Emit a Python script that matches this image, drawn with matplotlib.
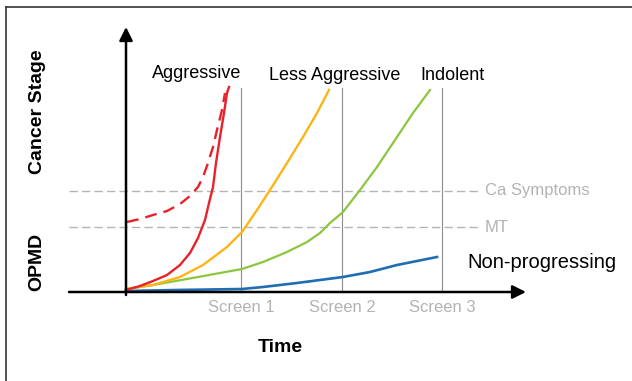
import matplotlib
matplotlib.use("Agg")
import matplotlib.pyplot as plt

plt.rcParams["font.family"] = ["Liberation Sans", "DejaVu Sans"]

# time axis: 0 = origin, stage axis: 0 = baseline (arbitrary units)
screens = [1.15, 2.16, 3.16]
screen_labels = ["Screen 1", "Screen 2", "Screen 3"]
thresholds = [1.01, 0.65]
threshold_labels = ["Ca Symptoms", "MT"]

aggr_x = [0.0, 0.14, 0.27, 0.41, 0.54, 0.64, 0.72, 0.79, 0.83, 0.87, 0.90, 0.94, 0.98, 1.01, 1.03]
aggr_y = [0.02, 0.06, 0.11, 0.17, 0.27, 0.39, 0.54, 0.72, 0.89, 1.05, 1.29, 1.55, 1.79, 1.99, 2.05]

aggr_sym_x = [0.01, 0.14, 0.27, 0.41, 0.54, 0.64, 0.72, 0.77, 0.82, 0.87, 0.91, 0.96, 0.99]
aggr_sym_y = [0.70, 0.73, 0.77, 0.81, 0.88, 0.96, 1.05, 1.15, 1.29, 1.45, 1.62, 1.82, 1.99]

less_x = [0.0, 0.27, 0.54, 0.77, 1.01, 1.16, 1.31, 1.44, 1.61, 1.77, 1.91, 2.03]
less_y = [0.03, 0.07, 0.15, 0.27, 0.45, 0.60, 0.82, 1.02, 1.29, 1.55, 1.79, 2.02]

indolent_x = [0.0, 0.27, 0.61, 0.94, 1.16, 1.37, 1.61, 1.81, 1.94, 2.04, 2.17, 2.34, 2.51, 2.71, 2.87, 3.04]
indolent_y = [0.03, 0.07, 0.13, 0.19, 0.23, 0.30, 0.40, 0.50, 0.59, 0.69, 0.80, 1.02, 1.25, 1.55, 1.79, 2.02]

nonprog_x = [0.0, 0.50, 1.16, 1.37, 1.71, 2.17, 2.44, 2.71, 2.91, 3.11]
nonprog_y = [0.01, 0.02, 0.03, 0.05, 0.09, 0.15, 0.20, 0.27, 0.31, 0.35]

fig = plt.figure(figsize=(6.32, 3.81), dpi=100)
ax = fig.add_axes([0, 0, 1, 1])
ax.set_xlim(-1.26, 5.06)
ax.set_ylim(-0.89, 2.92)
ax.axis("off")

# outer frame
ax.plot([-1.20, -1.20], [-0.95, 2.85], color="#333333", lw=1.2)
ax.plot([-1.20, 5.1], [2.85, 2.85], color="#333333", lw=1.2)

# thresholds
for t, lab in zip(thresholds, threshold_labels):
    ax.plot([-0.57, 3.54], [t, t], color="#b5b5b5", lw=1.0, ls=(0, (6, 3)))
    ax.text(3.59, t, lab, color="#b3b3b3", fontsize=12, va="center", ha="left")

# screening times
for s, lab in zip(screens, screen_labels):
    ax.plot([s, s], [0, 2.04], color="#8c8c8c", lw=0.8)
    ax.text(s, -0.16, lab, color="#b3b3b3", fontsize=12, va="center", ha="center")

# curves
ax.plot(nonprog_x, nonprog_y, color="#1f6db3", lw=1.9)
ax.plot(indolent_x, indolent_y, color="#8cc63f", lw=1.6)
ax.plot(less_x, less_y, color="#fbb515", lw=1.7)
ax.plot(aggr_x, aggr_y, color="#e8212b", lw=1.7)
ax.plot(aggr_sym_x, aggr_sym_y, color="#e8212b", lw=1.7, ls=(0, (5, 3)))

# axes with arrows
ax.annotate("", xy=(4.0, 0), xytext=(-0.57, 0),
            arrowprops=dict(arrowstyle="-|>", color="black", lw=1.8,
                            mutation_scale=20, shrinkA=0, shrinkB=0))
ax.annotate("", xy=(0, 2.65), xytext=(0, -0.03),
            arrowprops=dict(arrowstyle="-|>", color="black", lw=1.8,
                            mutation_scale=20, shrinkA=0, shrinkB=0))

# labels
ax.text(0.71, 2.19, "Aggressive", fontsize=13, ha="center", va="center")
ax.text(2.09, 2.17, "Less Aggressive", fontsize=13, ha="center", va="center")
ax.text(3.26, 2.17, "Indolent", fontsize=13, ha="center", va="center")
ax.text(3.41, 0.30, "Non-progressing", fontsize=14.5, ha="left", va="center")
ax.text(1.54, -0.56, "Time", fontsize=14, fontweight="bold", ha="center", va="center")
ax.text(-0.89, 1.80, "Cancer Stage", fontsize=14, fontweight="bold",
        rotation=90, ha="center", va="center")
ax.text(-0.89, 0.30, "OPMD", fontsize=14, fontweight="bold",
        rotation=90, ha="center", va="center")

fig.savefig("out.png", dpi=100)
